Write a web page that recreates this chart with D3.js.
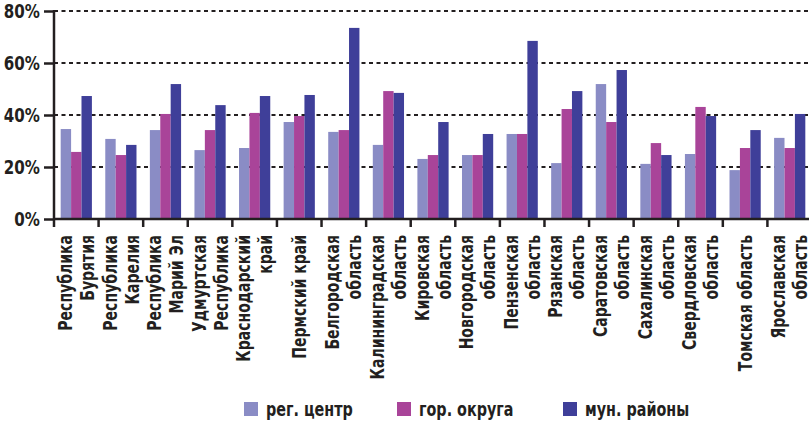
<!DOCTYPE html>
<html>
<head>
<meta charset="utf-8">
<script src="https://cdn.jsdelivr.net/npm/d3@7"></script>
<style>
  body { margin: 0; background: #fff; }
  svg text { font-family: "Liberation Sans Narrow", "DejaVu Sans Condensed", "Roboto Condensed", sans-serif; font-weight: bold; fill: #231f20; }
</style>
</head>
<body>
<div id="chart"></div>
<script>
// region labels, split into lines as on the picture
var regions = [
  ["Республика", "Бурятия"],
  ["Республика", "Карелия"],
  ["Республика", "Марий Эл"],
  ["Удмуртская", "Республика"],
  ["Краснодарский", "край"],
  ["Пермский край"],
  ["Белгородская", "область"],
  ["Калининградская", "область"],
  ["Кировская", "область"],
  ["Новгородская", "область"],
  ["Пензенская", "область"],
  ["Рязанская", "область"],
  ["Саратовская", "область"],
  ["Сахалинская", "область"],
  ["Свердловская", "область"],
  ["Томская область"],
  ["Ярославская", "область"]
];

// shares, %
var regCenter = [34.6, 30.8, 34.2, 26.5, 27.3, 37.3, 33.5, 28.5, 23.1, 24.6, 32.7, 21.5, 51.9, 21.2, 25.0, 18.8, 31.2];
var gorOkruga = [25.8, 24.6, 40.4, 34.2, 40.8, 39.6, 34.2, 49.2, 24.6, 24.6, 32.7, 42.3, 37.3, 29.2, 43.1, 27.3, 27.3];
var munRaiony = [47.3, 28.5, 51.9, 43.8, 47.3, 47.7, 73.5, 48.5, 37.3, 32.7, 68.5, 49.2, 57.3, 24.6, 39.6, 34.2, 40.4];

var seriesNames = ["рег. центр", "гор. округа", "мун. районы"];
var seriesColors = ["#8a8cc5", "#a94499", "#3f3f99"];
var yTicks = [0, 20, 40, 60, 80];

var width = 809, height = 423;
var mLeft = 54, mTop = 11, mBottom = 219, mRight = 812;
// the original font is a narrow one, squeeze ours a bit
var squeeze = 0.84;

var svg = d3.select("#chart").append("svg")
  .attr("width", width)
  .attr("height", height);

var keys = regions.map(function (d) { return d.join(" "); });

var x = d3.scaleBand()
  .domain(keys)
  .range([mLeft, mRight])
  .paddingInner(0.3)
  .paddingOuter(0.15);

var xSub = d3.scaleBand()
  .domain(d3.range(seriesNames.length))
  .range([0, x.bandwidth()]);

var y = d3.scaleLinear()
  .domain([0, 80])
  .range([mBottom, mTop]);

// dashed grid
svg.append("g")
  .selectAll("line")
  .data(yTicks.filter(function (d) { return d > 0; }))
  .enter().append("line")
  .attr("x1", mLeft)
  .attr("x2", width)
  .attr("y1", function (d) { return y(d); })
  .attr("y2", function (d) { return y(d); })
  .attr("stroke", "#231f20")
  .attr("stroke-width", 2)
  .attr("stroke-dasharray", "4,3.5");

// bars
var values = [regCenter, gorOkruga, munRaiony];
var groups = svg.append("g")
  .selectAll("g")
  .data(keys)
  .enter().append("g")
  .attr("transform", function (d) { return "translate(" + x(d) + ",0)"; });

groups.selectAll("rect")
  .data(function (d, i) { return values.map(function (s, j) { return { s: j, v: s[i] }; }); })
  .enter().append("rect")
  .attr("x", function (d) { return xSub(d.s); })
  .attr("width", xSub.bandwidth())
  .attr("y", function (d) { return y(d.v); })
  .attr("height", function (d) { return mBottom - y(d.v); })
  .attr("fill", function (d) { return seriesColors[d.s]; });

// y axis
var yAxis = d3.axisLeft(y)
  .tickValues(yTicks)
  .tickSize(10)
  .tickPadding(4)
  .tickFormat(function (d) { return d + "%"; });

var gy = svg.append("g")
  .attr("transform", "translate(" + mLeft + ",0)")
  .call(yAxis);
gy.select(".domain").remove();
gy.selectAll(".tick line").attr("stroke", "#231f20").attr("stroke-width", 2.5);
gy.selectAll(".tick text")
  .attr("font-size", 20)
  .attr("font-family", null)
  .attr("x", null)
  .attr("transform", "translate(-14,0) scale(" + squeeze + ",1)");

svg.append("line")
  .attr("x1", mLeft).attr("x2", mLeft)
  .attr("y1", mTop - 1).attr("y2", mBottom + 8)
  .attr("stroke", "#231f20").attr("stroke-width", 2.5);

// x axis line and boundary ticks
svg.append("line")
  .attr("x1", mLeft).attr("x2", width)
  .attr("y1", mBottom).attr("y2", mBottom)
  .attr("stroke", "#231f20").attr("stroke-width", 2.5);

var bounds = keys.map(function (d) { return x(d) - x.step() * 0.15; }).concat([mRight]);
svg.append("g")
  .selectAll("line")
  .data(bounds.slice(1))
  .enter().append("line")
  .attr("x1", function (d) { return d; })
  .attr("x2", function (d) { return d; })
  .attr("y1", mBottom)
  .attr("y2", mBottom + 8)
  .attr("stroke", "#231f20").attr("stroke-width", 2.5);

// category labels, rotated
var lineH = 22;
var labels = svg.append("g")
  .selectAll("text")
  .data(regions)
  .enter().append("text")
  .attr("text-anchor", "end")
  .attr("font-size", 19)
  .attr("transform", function (d, i) {
    return "translate(" + (x(keys[i]) + x.bandwidth() / 2) + "," + (mBottom + 16) + ") rotate(-90) scale(0.82,1)";
  });

labels.selectAll("tspan")
  .data(function (d) { return d.map(function (t, j) { return { t: t, j: j, n: d.length }; }); })
  .enter().append("tspan")
  .attr("x", 0)
  .attr("y", function (d) { return (d.j - (d.n - 1) / 2) * lineH; })
  .attr("dy", "0.35em")
  .text(function (d) { return d.t; });

// legend
var legendX = [244, 397, 563];
var legend = svg.append("g")
  .selectAll("g")
  .data(seriesNames)
  .enter().append("g")
  .attr("transform", function (d, i) { return "translate(" + legendX[i] + ",402)"; });

legend.append("rect")
  .attr("width", 14)
  .attr("height", 14)
  .attr("fill", function (d, i) { return seriesColors[i]; });

legend.append("text")
  .attr("transform", "translate(22,7) scale(" + squeeze + ",1)")
  .attr("dy", "0.35em")
  .attr("font-size", 19)
  .text(function (d) { return d; });
</script>
</body>
</html>
